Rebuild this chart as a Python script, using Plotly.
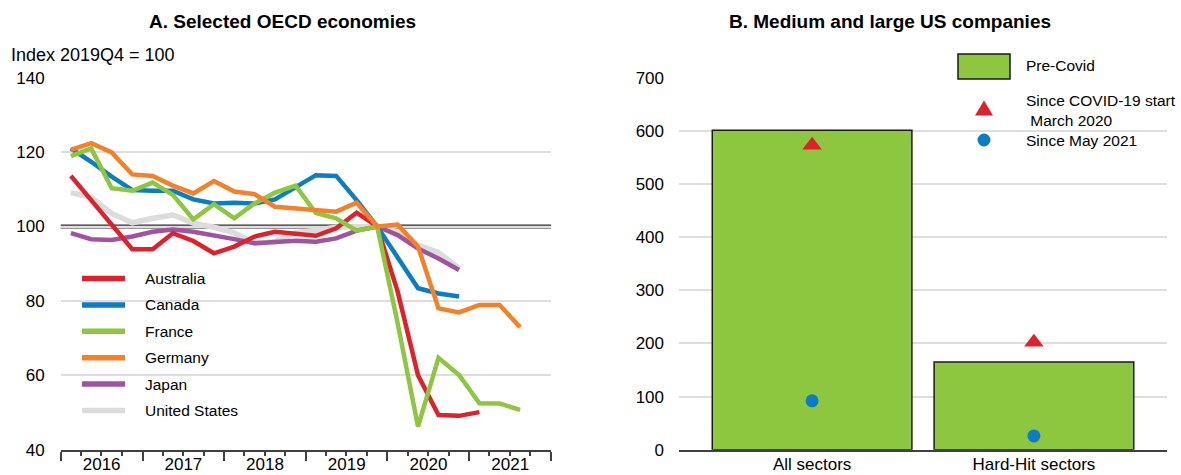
import plotly.graph_objects as go
import pandas as pd

W, H = 1181, 475
FONT = "Liberation Sans, Arial, sans-serif"

# ---------------- data: panel A (index 2019Q4 = 100) ----------------
quarters = [f"{y}Q{q}" for y in range(2016, 2022) for q in range(1, 5)]
countries = ["Australia", "Canada", "France", "Germany", "Japan", "United States"]

australia = [113.6, 107.0, 100.5, 93.9, 93.9, 98.2, 96.1, 92.8, 94.6, 97.3, 98.6, 98.2,
             97.5, 99.5, 103.7, 100.0, 82.5, 60.0, 49.3, 49.1, 50.1]
canada = [121.0, 117.4, 113.4, 109.8, 109.6, 109.6, 107.3, 106.2, 106.4, 106.2, 107.3, 110.7,
          113.8, 113.6, 107.1, 100.0, 91.5, 83.4, 82.0, 81.2]
france = [118.9, 121.0, 110.3, 109.6, 111.8, 108.5, 101.9, 106.0, 102.2, 106.2, 109.1, 111.0,
          103.6, 102.2, 98.9, 100.0, 74.0, 46.2, 64.7, 60.1, 52.5, 52.4, 50.7]
germany = [120.6, 122.4, 119.9, 114.0, 113.6, 111.0, 108.9, 112.2, 109.4, 108.7, 105.3, 104.8,
           104.6, 104.0, 106.4, 100.0, 100.5, 94.6, 78.0, 76.9, 78.9, 78.9, 72.9]
japan = [98.2, 96.6, 96.4, 97.3, 98.6, 99.2, 98.6, 97.7, 96.6, 95.5, 95.7, 96.2,
         95.9, 96.8, 98.9, 100.0, 97.7, 94.1, 91.4, 88.3]
united_states = [109.1, 107.8, 103.5, 101.0, 102.2, 103.1, 100.9, 99.8, 98.3, 95.5, 95.9, 98.3,
                 99.0, 99.8, 99.9, 100.0, 98.6, 95.0, 93.0, 88.8]

series = {
    "Australia": australia,
    "Canada": canada,
    "France": france,
    "Germany": germany,
    "Japan": japan,
    "United States": united_states,
}
colors = {
    "Australia": "#E0202A",
    "Canada": "#0B7DC4",
    "France": "#8DC63F",
    "Germany": "#F58025",
    "Japan": "#A053A0",
    "United States": "#DCDCDC",
}
draw_order = ["United States", "Japan", "Australia", "Canada", "France", "Germany"]

# ---------------- data: panel B ----------------
sectors = ["All sectors", "Hard-Hit sectors"]
pre_covid = [601, 165]
since_covid_start = [573, 202]
since_may_2021 = [92, 26]
panel_b_labels = ["Pre-Covid", "Since COVID-19 start<br> March 2020", "Since May 2021"]

GREEN = "#8DC63F"
RED = "#E0202A"
BLUE = "#0B7DC4"


def q_mid(q):
    p = pd.Period(q, freq="Q")
    mid = p.start_time + (p.end_time - p.start_time) / 2
    return mid.floor("s").strftime("%Y-%m-%d %H:%M:%S")


x_dates = [q_mid(q) for q in quarters]


def px(x):
    return x / W


def py(y):
    return 1 - y / H


fig = go.Figure()

for name in draw_order:
    vals = series[name]
    fig.add_trace(go.Scatter(
        x=x_dates[:len(vals)], y=vals, mode="lines", name=name,
        line=dict(color=colors[name], width=4.5 if name != "United States" else 5.5),
        showlegend=False, xaxis="x", yaxis="y",
    ))

fig.add_trace(go.Bar(
    x=sectors, y=pre_covid, name=panel_b_labels[0], width=0.9,
    marker=dict(color=GREEN, line=dict(color="#1a1a1a", width=1.5)),
    showlegend=False, xaxis="x2", yaxis="y2",
))
fig.add_trace(go.Scatter(
    x=sectors, y=since_covid_start, mode="markers", name="Since COVID-19 start March 2020",
    marker=dict(symbol="triangle-up", size=17, color=RED),
    showlegend=False, xaxis="x2", yaxis="y2",
))
fig.add_trace(go.Scatter(
    x=sectors, y=since_may_2021, mode="markers", name="Since May 2021",
    marker=dict(symbol="circle", size=13, color=BLUE),
    showlegend=False, xaxis="x2", yaxis="y2",
))

tickfont = dict(family=FONT, size=17, color="#000")
AXC = "#404040"

fig.update_layout(
    width=W, height=H, autosize=False,
    margin=dict(l=0, r=0, t=0, b=0, pad=0, autoexpand=False),
    paper_bgcolor="white", plot_bgcolor="white",
    font=dict(family=FONT, color="#000"),
    xaxis=dict(
        domain=[px(60.7), px(551)], type="date",
        range=["2016-01-01", "2022-01-01"],
        tick0="2016-01-01", dtick="M12", tickformat="%Y", ticklabelmode="period",
        ticks="outside", ticklen=9, tickwidth=1.5, tickcolor=AXC,
        minor=dict(dtick="M3", ticks="outside", ticklen=4.5, tickwidth=1.5, tickcolor=AXC, showgrid=False),
        showline=True, linecolor=AXC, linewidth=1.8, showgrid=False,
        tickfont=tickfont, fixedrange=True, ticklabelstandoff=-11, automargin=False,
    ),
    yaxis=dict(
        domain=[py(449.7), py(77.7)], range=[40, 140], dtick=20, tick0=40,
        showgrid=True, gridcolor="#DEDEDE", gridwidth=1.5,
        zeroline=False, showline=False, ticks="", tickfont=tickfont,
        ticklabelstandoff=15, anchor="x", automargin=False,
    ),
    xaxis2=dict(
        domain=[px(679), px(1167)], type="category", range=[-0.6, 1.6],
        showline=True, linecolor=AXC, linewidth=2, ticks="", showgrid=False,
        tickfont=tickfont, anchor="y2", automargin=False, ticklabelstandoff=-2,
    ),
    yaxis2=dict(
        domain=[py(449.7), py(77.7)], range=[0, 700], dtick=100,
        showgrid=True, gridcolor="#DEDEDE", gridwidth=1.5,
        zeroline=False, showline=False, ticks="", tickfont=tickfont,
        ticklabelstandoff=14, anchor="x2", automargin=False,
    ),
    showlegend=False,
)

shapes = []
# double reference line at 100 in panel A
for off in (0.35, -0.35):
    shapes.append(dict(type="line", xref="paper", yref="y", x0=px(60.7), x1=px(551),
                       y0=100 + off, y1=100 + off, line=dict(color="#2a2a2a", width=1.3),
                       layer="below"))

annotations = []
# titles
annotations.append(dict(text="<b>A. Selected OECD economies</b>", x=px(282), y=py(22),
                        xref="paper", yref="paper", xanchor="center", yanchor="middle",
                        showarrow=False, font=dict(family=FONT, size=19, color="#000")))
annotations.append(dict(text="<b>B. Medium and large US companies</b>", x=px(890), y=py(22),
                        xref="paper", yref="paper", xanchor="center", yanchor="middle",
                        showarrow=False, font=dict(family=FONT, size=19, color="#000")))
annotations.append(dict(text="Index 2019Q4 = 100", x=px(9), y=py(55),
                        xref="paper", yref="paper", xanchor="left", yanchor="middle",
                        showarrow=False, font=dict(family=FONT, size=18, color="#000")))

# legend panel A
for i, name in enumerate(countries):
    yy = 278.5 + 26.4 * i
    shapes.append(dict(type="line", xref="paper", yref="paper", x0=px(82), x1=px(125),
                       y0=py(yy), y1=py(yy), line=dict(color=colors[name], width=5.5)))
    annotations.append(dict(text=name, x=px(143), y=py(yy), xref="paper", yref="paper",
                            xanchor="left", yanchor="middle", showarrow=False,
                            font=dict(family=FONT, size=15.5, color="#000")))

# legend panel B
shapes.append(dict(type="rect", xref="paper", yref="paper", x0=px(958), x1=px(1010),
                   y0=py(79), y1=py(54), fillcolor=GREEN, line=dict(color="#1a1a1a", width=1.5)))
shapes.append(dict(type="path", xref="paper", yref="paper",
                   path=f"M {px(975)},{py(115.5)} L {px(993)},{py(115.5)} L {px(984)},{py(100.5)} Z",
                   fillcolor=RED, line=dict(color=RED, width=0)))
shapes.append(dict(type="circle", xref="paper", yref="paper", x0=px(977.5), x1=px(990.5),
                   y0=py(146.5), y1=py(133.5), fillcolor=BLUE, line=dict(color=BLUE, width=0)))
annotations.append(dict(text=panel_b_labels[0], x=px(1024), y=py(66), xref="paper", yref="paper",
                        xanchor="left", yanchor="middle", showarrow=False,
                        font=dict(family=FONT, size=15.5, color="#000")))
annotations.append(dict(text=panel_b_labels[1], x=px(1024), y=py(110), xref="paper", yref="paper",
                        xanchor="left", yanchor="middle", align="left", showarrow=False,
                        font=dict(family=FONT, size=15.5, color="#000")))
annotations.append(dict(text=panel_b_labels[2], x=px(1024), y=py(140), xref="paper", yref="paper",
                        xanchor="left", yanchor="middle", showarrow=False,
                        font=dict(family=FONT, size=15.5, color="#000")))

fig.update_layout(shapes=shapes, annotations=annotations)
fig.write_html("out.html", config=dict(displayModeBar=False),
               post_script="document.body.style.margin='0';document.body.style.overflow='hidden';")
